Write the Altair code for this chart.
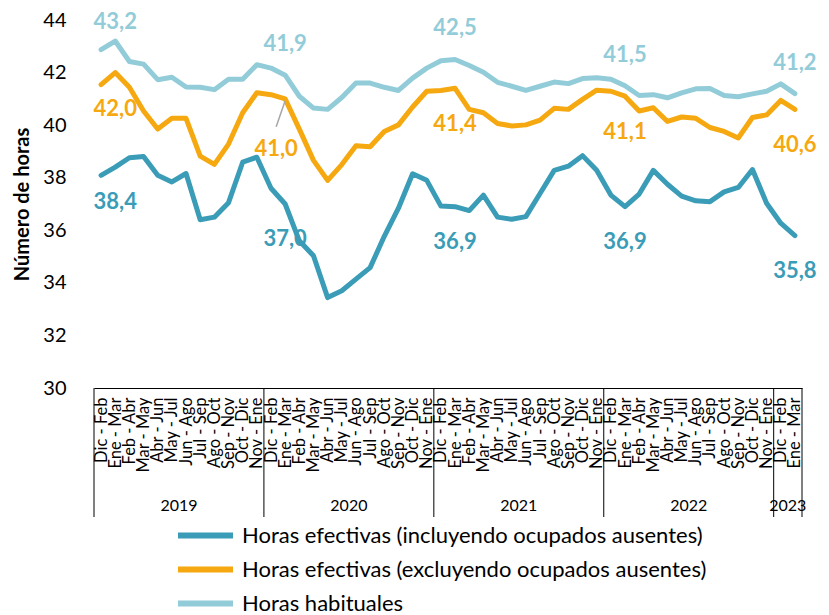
import altair as alt
import pandas as pd

months = ["Dic - Feb", "Ene - Mar", "Feb - Abr", "Mar - May", "Abr - Jun", "May - Jul",
          "Jun - Ago", "Jul - Sep", "Ago - Oct", "Sep - Nov", "Oct - Dic", "Nov - Ene"]
years = ["2019", "2020", "2021", "2022", "2023"]
months_per_year = [12, 12, 12, 12, 2]

series = ["Horas efectivas (incluyendo ocupados ausentes)",
          "Horas efectivas (excluyendo ocupados ausentes)",
          "Horas habituales"]
colors = ["#3A9CB6", "#F5A80F", "#93CCD9"]

incluyendo = [38.09, 38.40, 38.76, 38.81, 38.09, 37.84, 38.16, 36.40, 36.50, 37.05, 38.59, 38.78,
              37.60, 37.00, 35.60, 35.03, 33.44, 33.70, 34.14, 34.58, 35.77, 36.84, 38.15, 37.90,
              36.92, 36.90, 36.75, 37.34, 36.50, 36.42, 36.52, 37.40, 38.28, 38.44, 38.84, 38.28,
              37.34, 36.90, 37.38, 38.28, 37.75, 37.30, 37.12, 37.09, 37.46, 37.63, 38.31, 37.03,
              36.27, 35.80]
excluyendo = [41.54, 42.00, 41.44, 40.54, 39.85, 40.26, 40.26, 38.82, 38.51, 39.28, 40.47, 41.23,
              41.16, 41.00, 39.85, 38.66, 37.90, 38.50, 39.22, 39.18, 39.76, 40.01, 40.69, 41.29,
              41.32, 41.40, 40.60, 40.47, 40.06, 39.97, 40.01, 40.19, 40.64, 40.60, 40.98, 41.33,
              41.29, 41.10, 40.54, 40.66, 40.14, 40.31, 40.26, 39.91, 39.76, 39.51, 40.29, 40.39,
              40.94, 40.60]
habituales = [42.87, 43.20, 42.42, 42.32, 41.73, 41.82, 41.45, 41.44, 41.35, 41.75, 41.75, 42.30,
              42.17, 41.90, 41.10, 40.65, 40.60, 41.05, 41.60, 41.60, 41.44, 41.32, 41.79, 42.17,
              42.45, 42.50, 42.27, 42.01, 41.63, 41.48, 41.32, 41.48, 41.64, 41.58, 41.77, 41.80,
              41.75, 41.50, 41.13, 41.16, 41.04, 41.23, 41.38, 41.39, 41.13, 41.08, 41.19, 41.29,
              41.57, 41.20]
label_idx = [1, 13, 25, 37, 49]

FONT = "Lato, Liberation Sans, sans-serif"

rows = []
for name, vals in zip(series, [incluyendo, excluyendo, habituales]):
    for i, v in enumerate(vals):
        rows.append({"idx": i, "serie": name, "valor": v})
df = pd.DataFrame(rows)

lab = df[df["idx"].isin(label_idx)].copy()

# year boxes
starts = []
s = 0
for n in months_per_year:
    starts.append(s)
    s += n
bounds = pd.DataFrame({"idx": [st - 0.5 for st in starts] + [s - 0.5]})
yr = pd.DataFrame({"year": years,
                   "idx": [st + (n - 1) / 2 for st, n in zip(starts, months_per_year)]})

month_arr = "[" + ",".join("'" + m + "'" for m in months) + "]"

xscale = alt.Scale(domain=[-0.5, len(incluyendo) - 0.5], nice=False, zero=False)
yscale = alt.Scale(domain=[30, 44], nice=False, zero=False)

xaxis = alt.Axis(values=list(range(len(incluyendo))), labelExpr=month_arr + "[datum.value % 12]",
                 labelAngle=270, labelAlign="right", labelBaseline="middle",
                 labelOverlap=False, labelFlush=False, labelBound=False,
                 ticks=False, grid=False, domain=True, domainColor="black",
                 domainWidth=1, labelFontSize=16.5, labelFont=FONT, labelColor="black",
                 labelPadding=9, title=None)
yaxis = alt.Axis(values=[30, 32, 34, 36, 38, 40, 42, 44], grid=False, domain=False,
                 ticks=False, labelFontSize=20, labelFont=FONT, labelColor="black",
                 labelPadding=28, title="Número de horas", titleFontSize=20,
                 titleFont=FONT, titleFontWeight="bold", titleColor="black",
                 titlePadding=10)

X_ = alt.X("idx:Q", scale=xscale, axis=xaxis)
Y_ = alt.Y("valor:Q", scale=yscale, axis=yaxis)

color = alt.Color("serie:N", scale=alt.Scale(domain=series, range=colors),
                  legend=alt.Legend(orient="none", legendX=99, legendY=503, direction="vertical",
                                    title=None, symbolType="M-3,0H3", symbolSize=336,
                                    symbolStrokeWidth=6, labelFontSize=22, labelFont=FONT,
                                    labelColor="black", labelLimit=0, rowPadding=9,
                                    labelOffset=24))

lines = alt.Chart(df).mark_line(strokeWidth=5, strokeCap="round", strokeJoin="round").encode(
    x=X_, y=Y_, color=color, order="idx:Q")

txt = "replace(format(datum.valor, '.1f'), '.', ',')"


def labels(name, col, dy, dx=0, flt=None):
    c = alt.Chart(lab).transform_filter(alt.datum.serie == name)
    if flt is not None:
        c = c.transform_filter(flt)
    return c.transform_calculate(t=txt).mark_text(
        fontSize=22, fontWeight="bold", font=FONT, color=col, dy=dy, dx=dx,
        baseline="middle", align="center").encode(x=X_, y=Y_, text="t:N")


lab_inc = labels(series[0], colors[0], 35)
lab_exc = labels(series[1], colors[1], 36, flt=alt.datum.idx != 13)
lab_exc20 = labels(series[1], colors[1], 50, dx=-9, flt=alt.datum.idx == 13)
lab_hab = labels(series[2], colors[2], -31, flt=alt.datum.idx != 1)
lab_hab19 = labels(series[2], colors[2], -19, flt=alt.datum.idx == 1)

leader = alt.Chart(lab).transform_filter(
    (alt.datum.serie == series[1]) & (alt.datum.idx == 13)
).mark_rule(color="#A6A6A6", strokeWidth=1.5, yOffset=2, y2Offset=28, x2Offset=-9).encode(
    x=X_, x2="idx:Q", y=Y_, y2="valor:Q")

seps = alt.Chart(bounds).mark_rule(color="black", strokeWidth=1).encode(
    x=X_, y=alt.value(368), y2=alt.value(497))

yrs = alt.Chart(yr).mark_text(fontSize=16, font=FONT, color="black", baseline="middle").encode(
    x=X_, y=alt.value(486), text="year:N")

chart = alt.layer(lines, seps, yrs, leader, lab_inc, lab_exc, lab_exc20, lab_hab, lab_hab19).properties(
    width=708, height=368,
    background="white",
    autosize=alt.AutoSizeParams(type="none"),
    padding={"left": 86, "top": 12, "right": 19, "bottom": 226},
).configure_view(stroke=None).configure_axisX(labelOverlap=False)

chart.save("out.html", embed_options={"renderer": "svg", "actions": False})
